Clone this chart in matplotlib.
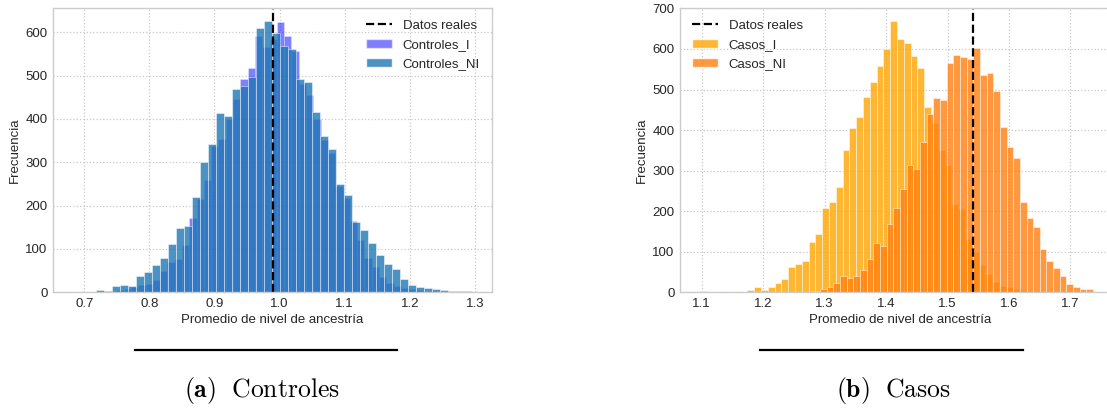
import numpy as np
import matplotlib
matplotlib.use("Agg")
import matplotlib.pyplot as plt
from matplotlib.lines import Line2D
from matplotlib.patches import Patch

# ---------------- data ----------------
# Controles_NI : 50 bins
ctrl_ni_start, ctrl_ni_width = 0.6811, 0.01229
ctrl_ni_counts = [1, 1, 0, 5, 4, 15, 17, 14, 37, 46, 62, 79,
                  112, 148, 154, 219, 301, 342, 413, 407, 468, 476, 496, 610, 625,
                  598, 569, 562, 492, 485, 415, 360, 330, 249, 224, 163, 144, 114,
                  85, 65, 53, 30, 18, 13, 9, 7, 5, 3, 2, 2]
# Controles_I : 50 bins
ctrl_i_start, ctrl_i_width = 0.7156, 0.01121
ctrl_i_counts = [1, 2, 3, 5, 8, 12, 18, 20, 28, 49,
                 71, 77, 109, 172, 215, 258, 338, 353, 400, 446, 492, 517,
                 592, 565, 585, 624, 592, 557, 480, 455, 400, 352, 322, 245,
                 218, 165, 120, 80, 59, 35, 22, 14, 10, 7, 5, 3, 2, 1, 1, 1]
ctrl_real = 0.990

# Casos_I : 50 bins
casos_i_start, casos_i_width = 1.097, 0.01106
casos_i_counts = [3, 0, 0, 1, 1, 0, 0, 5, 14, 6, 12, 23, 33, 62, 71, 78,
                  124, 143, 207, 222, 260, 352, 405, 432, 481, 518, 559, 600,
                  668, 624, 615, 583, 553, 458, 417, 352, 315, 218, 205, 132,
                  100, 67, 44, 26, 16, 12, 7, 5, 2, 1]
# Casos_NI : 50 bins
casos_ni_start, casos_ni_width = 1.2057, 0.01084
casos_ni_counts = [1, 0, 2, 2, 1, 2, 2, 3, 9, 14, 23, 40, 35, 39, 55, 83,
                   122, 115, 168, 207, 254, 313, 304, 371, 439, 480, 474, 565,
                   585, 579, 576, 603, 536, 540, 497, 407, 358, 332, 223, 182,
                   162, 108, 76, 59, 39, 20, 12, 7, 7, 2]
casos_real = 1.541

xlabel = "Promedio de nivel de ancestría"
ylabel = "Frecuencia"
captions = [r"$\mathbf{(a)}\ \ \mathrm{Controles}$", r"$\mathbf{(b)}\ \ \mathrm{Casos}$"]

# ---------------- style ----------------
plt.rcParams.update({
    "font.family": ["Liberation Sans", "DejaVu Sans"],
    "mathtext.fontset": "cm",
    "axes.edgecolor": "#cccccc",
    "axes.linewidth": 1.0,
    "text.color": "#262626",
    "axes.labelcolor": "#262626",
    "xtick.color": "#262626",
    "ytick.color": "#262626",
})

fig = plt.figure(figsize=(11.07, 4.12), dpi=100)
axL = fig.add_axes([0.0479, 0.2905, 0.3965, 0.6901])
axR = fig.add_axes([0.6143, 0.2905, 0.3974, 0.6901])


def draw_hist(ax, start, width, counts, **kw):
    counts = np.asarray(counts, dtype=float)
    edges = start + width * np.arange(len(counts) + 1)
    ax.hist(edges[:-1], bins=edges, weights=counts, edgecolor="white",
            linewidth=0.4, **kw)


def style(ax):
    ax.set_facecolor("white")
    ax.grid(True, linestyle=":", color="#c8c8c8", linewidth=0.9)
    ax.set_axisbelow(True)
    ax.tick_params(length=0, labelsize=9.5, pad=4)
    ax.set_xlabel(xlabel, fontsize=9.5, labelpad=3)
    ax.set_ylabel(ylabel, fontsize=9.5, labelpad=3)


# Left panel
draw_hist(axL, ctrl_i_start, ctrl_i_width, ctrl_i_counts, color="blue", alpha=0.5)
draw_hist(axL, ctrl_ni_start, ctrl_ni_width, ctrl_ni_counts, color="#1f77b4", alpha=0.8)
axL.axvline(ctrl_real, color="black", linestyle="--", linewidth=1.6)
style(axL)
axL.set_xlim(0.652, 1.3263)
axL.set_ylim(0, 656)
axL.set_xticks([0.7, 0.8, 0.9, 1.0, 1.1, 1.2, 1.3])
hL = [Line2D([], [], color="black", linestyle="--", linewidth=1.6),
      Patch(facecolor="blue", alpha=0.5, edgecolor="white"),
      Patch(facecolor="#1f77b4", alpha=0.8, edgecolor="white")]
axL.legend(hL, ["Datos reales", "Controles_I", "Controles_NI"], loc="upper right",
           frameon=False, fontsize=9.5, handlelength=2.0)

# Right panel
draw_hist(axR, casos_i_start, casos_i_width, casos_i_counts, color="orange", alpha=0.8)
draw_hist(axR, casos_ni_start, casos_ni_width, casos_ni_counts, color="#ff7f0e", alpha=0.8)
axR.axvline(casos_real, color="black", linestyle="--", linewidth=1.6)
style(axR)
axR.set_xlim(1.0647, 1.7805)
axR.set_ylim(0, 701)
axR.set_xticks([1.1, 1.2, 1.3, 1.4, 1.5, 1.6, 1.7])
hR = [Line2D([], [], color="black", linestyle="--", linewidth=1.6),
      Patch(facecolor="orange", alpha=0.8, edgecolor="white"),
      Patch(facecolor="#ff7f0e", alpha=0.8, edgecolor="white")]
axR.legend(hR, ["Datos reales", "Casos_I", "Casos_NI"], loc="upper left",
           frameon=False, fontsize=9.5, handlelength=2.0)

# rules and captions below
fig.add_artist(Line2D([135 / 1107, 397 / 1107], [1 - 350 / 412] * 2, color="black", linewidth=1.6))
fig.add_artist(Line2D([760 / 1107, 1023 / 1107], [1 - 350 / 412] * 2, color="black", linewidth=1.6))
fig.text(262 / 1107, 1 - 391 / 412, captions[0], ha="center", va="center", fontsize=18.5, color="black")
fig.text(893 / 1107, 1 - 391 / 412, captions[1], ha="center", va="center", fontsize=18.5, color="black")

fig.savefig("out.png", dpi=100, facecolor="white")
